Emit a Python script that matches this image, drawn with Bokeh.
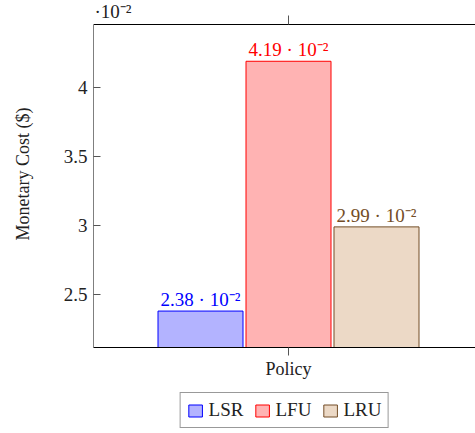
from bokeh.plotting import figure
from bokeh.layouts import column
from bokeh.models import (Range1d, FixedTicker, LinearAxis, Legend, LegendItem,
                          Label, LabelSet, ColumnDataSource)
from bokeh.embed import file_html
from bokeh.resources import INLINE
from bokeh.core.properties import value

# ---- data ----
category = "Policy"
series = ["LSR", "LFU", "LRU"]
values = [2.38, 4.19, 2.99]          # in units of 10^-2 $
value_labels = ["2.38 · 10⁻²", "4.19 · 10⁻²", "2.99 · 10⁻²"]
y_ticks = [2.5, 3, 3.5, 4]
y_tick_labels = ["2.5", "3", "3.5", "4"]
scale_label = "·10⁻²"

# ---- style / layout ----
line_colors = ["#0000ff", "#ff0000", "#734d26"]
fill_colors = ["#b3b3ff", "#ffb3b3", "#ecd9c6"]
offsets = [-1, 0, 1]
FONT = "Liberation Serif"
TXT = "#222222"

X0, X1 = -2.216, 2.125          # visible x extent
Y0, YTOP = 2.116, 4.4565         # axis box bottom / top
PX = 138.0                       # pixels per y unit
TOP_PAD = 24                     # px above the axis box
YMAX = YTOP + TOP_PAD / PX

p = figure(frame_width=382, frame_height=347,
           x_range=Range1d(X0, X1), y_range=Range1d(Y0, YMAX),
           x_axis_location=None, y_axis_location=None,
           output_backend="svg", toolbar_location=None,
           min_border_left=93, min_border_right=0, min_border_top=0,
           min_border_bottom=40, outline_line_color=None)
p.xgrid.visible = False
p.ygrid.visible = False

# axis box: left and top borders, top tick
p.segment(x0=[X0, X0, 0], y0=[Y0, YTOP, YTOP], x1=[X0, X1, 0],
          y1=[YTOP, YTOP, YTOP + 9 / PX],
          line_color=["black", "black", "#555555"], line_width=1)

xs = []
for s, v, off, lc, fc in zip(series, values, offsets, line_colors, fill_colors):
    x = off
    xs.append(x)
    p.vbar(x=[x], top=[v], bottom=[0], width=0.966,
           fill_color=fc, line_color=lc, line_width=1)

src = ColumnDataSource(dict(x=xs, top=values, label=value_labels, color=line_colors))
p.add_layout(LabelSet(x="x", y="top", text="label", text_color="color", source=src,
                      text_align="center", text_baseline="bottom", y_offset=1,
                      text_font=value(FONT), text_font_size="19px"))

p.add_layout(Label(x=X0, y=YTOP, text=scale_label, x_offset=1, y_offset=3,
                   text_baseline="bottom", text_font=FONT,
                   text_font_size="19px", text_color=TXT))

# left axis (ticks pointing inward)
ya = LinearAxis(ticker=FixedTicker(ticks=y_ticks),
                major_label_overrides={t: l for t, l in zip(y_ticks, y_tick_labels)},
                axis_label="Monetary Cost ($)",
                major_tick_in=7, major_tick_out=0, minor_tick_in=0, minor_tick_out=0,
                major_label_standoff=6, axis_label_standoff=28,
                axis_line_color=None, major_tick_line_color="#555555",
                major_label_text_font=FONT, major_label_text_font_size="19px",
                major_label_text_color=TXT,
                axis_label_text_font=FONT, axis_label_text_font_size="18px",
                axis_label_text_font_style="normal", axis_label_text_color=TXT)
p.add_layout(ya, "left")

# bottom axis
xa = LinearAxis(ticker=FixedTicker(ticks=[0]),
                major_label_overrides={0: category},
                major_tick_in=0, major_tick_out=8, minor_tick_in=0, minor_tick_out=0,
                major_label_standoff=3, axis_line_color="black",
                major_tick_line_color="#555555",
                major_label_text_font=FONT, major_label_text_font_size="18px",
                major_label_text_color=TXT)
p.add_layout(xa, "below")

# ---- legend strip (frame aligned with the chart frame) ----
lg = figure(frame_width=382, frame_height=44, x_range=Range1d(0, 1), y_range=Range1d(0, 1),
            x_axis_location=None, y_axis_location=None, output_backend="svg",
            toolbar_location=None, min_border_left=93, min_border_right=0,
            min_border_top=0, min_border_bottom=0, outline_line_color=None,
            border_fill_color="white", background_fill_color="white")
lg.xgrid.visible = False
lg.ygrid.visible = False
items = []
for s, lc, fc in zip(series, line_colors, fill_colors):
    # tiny swatch renderer, hidden behind the opaque legend box
    r = lg.vbar(x=[0.5], top=[0.55], bottom=[0.5], width=0.01,
                fill_color=fc, line_color=lc, line_width=1)
    items.append(LegendItem(label=s, renderers=[r]))
legend = Legend(items=items, orientation="horizontal", location="top_center",
                label_text_font=FONT, label_text_font_size="19px",
                label_text_color=TXT, label_height=15,
                glyph_width=17, glyph_height=15, label_standoff=5, spacing=10,
                padding=6, margin=5, border_line_color="#333333",
                border_line_width=1, background_fill_color="white",
                background_fill_alpha=1.0)
lg.add_layout(legend, "center")

layout = column(p, lg, spacing=0)
open("out.html", "w").write(file_html(layout, INLINE))
